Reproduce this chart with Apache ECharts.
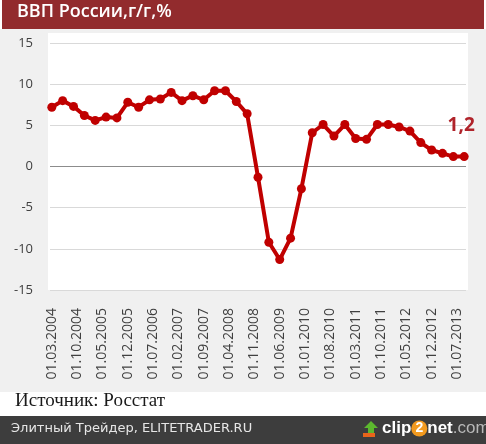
<!DOCTYPE html>
<html>
<head>
<meta charset="utf-8">
<script src="https://cdn.jsdelivr.net/npm/echarts@6/dist/echarts.min.js"></script>
<style>
html,body{margin:0;padding:0;background:#ffffff;}
#chart{width:486px;height:444px;}
</style>
</head>
<body>
<div id="chart"></div>
<script>
// Quarterly dates (data points)
const quarterDates = [
  '01.03.2004','01.06.2004','01.09.2004','01.12.2004',
  '01.03.2005','01.06.2005','01.09.2005','01.12.2005',
  '01.03.2006','01.06.2006','01.09.2006','01.12.2006',
  '01.03.2007','01.06.2007','01.09.2007','01.12.2007',
  '01.03.2008','01.06.2008','01.09.2008','01.12.2008',
  '01.03.2009','01.06.2009','01.09.2009','01.12.2009',
  '01.03.2010','01.06.2010','01.09.2010','01.12.2010',
  '01.03.2011','01.06.2011','01.09.2011','01.12.2011',
  '01.03.2012','01.06.2012','01.09.2012','01.12.2012',
  '01.03.2013','01.06.2013','01.09.2013'
];
// GDP growth y/y, %
const gdpYoY = [
  7.2, 8.0, 7.3, 6.2,
  5.6, 6.0, 5.9, 7.8,
  7.2, 8.1, 8.2, 9.0,
  8.0, 8.6, 8.1, 9.2,
  9.2, 7.9, 6.4, -1.3,
  -9.2, -11.3, -8.7, -2.7,
  4.1, 5.1, 3.7, 5.1,
  3.4, 3.3, 5.1, 5.1,
  4.8, 4.3, 2.9, 2.0,
  1.6, 1.2, 1.2
];
// Tick labels shown on the x axis (every 7 months)
const tickLabels = [
  '01.03.2004','01.10.2004','01.05.2005','01.12.2005','01.07.2006','01.02.2007',
  '01.09.2007','01.04.2008','01.11.2008','01.06.2009','01.01.2010','01.08.2010',
  '01.03.2011','01.10.2011','01.05.2012','01.12.2012','01.07.2013'
];
const yTicks = [-15, -10, -5, 0, 5, 10, 15];

const titleText = 'ВВП России,г/г,%';
const sourceText = 'Источник: Росстат';
const footerText = 'Элитный Трейдер, ELITETRADER.RU';

// monthly category axis from first to last quarter date
function pad(n){return (n<10?'0':'')+n;}
const months = [];
(function(){
  const f = quarterDates[0].split('.'), l = quarterDates[quarterDates.length-1].split('.');
  let m = +f[1], y = +f[2];
  const em = +l[1], ey = +l[2];
  while (y < ey || (y === ey && m <= em)) {
    months.push('01.' + pad(m) + '.' + y);
    m++; if (m > 12) { m = 1; y++; }
  }
})();

const valueByDate = {};
quarterDates.forEach((d, i) => { valueByDate[d] = gdpYoY[i]; });
const lastDate = quarterDates[quarterDates.length - 1];
const seriesData = months.map(c => {
  if (!(c in valueByDate)) return null;
  if (c === lastDate) {
    return {
      value: valueByDate[c],
      label: {
        show: true, position: 'top', distance: 17, offset: [-3, 0],
        formatter: p => String(p.value).replace('.', ','),
        color: '#b0232a', fontSize: 19, fontWeight: 'bold',
        fontFamily: 'Open Sans, sans-serif'
      }
    };
  }
  return valueByDate[c];
});

const gridColors = yTicks.map(v => v === 0 ? '#8c8c8c' : '#d9d9d9');

const chart = echarts.init(document.getElementById('chart'), null, {renderer: 'canvas'});
chart.setOption({
  animation: false,
  backgroundColor: '#ffffff',
  grid: { left: 50, right: 20, top: 43, bottom: 154 },
  xAxis: {
    type: 'category',
    data: months,
    boundaryGap: true,
    axisLine: { show: false },
    axisTick: { show: false },
    splitLine: { show: false },
    axisLabel: {
      interval: 0,
      rotate: 90,
      margin: 18,
      fontSize: 14,
      color: '#404040',
      fontFamily: 'Open Sans, sans-serif',
      padding: [6, 0, 0, 0],
      formatter: v => tickLabels.indexOf(v) >= 0 ? v : ''
    }
  },
  yAxis: {
    type: 'value',
    min: yTicks[0], max: yTicks[yTicks.length - 1], interval: 5,
    axisLine: { show: false },
    axisTick: { show: false },
    axisLabel: { margin: 17, fontSize: 13, color: '#404040', fontFamily: 'Open Sans, sans-serif' },
    splitLine: { show: true, lineStyle: { color: gridColors, width: 1 } }
  },
  series: [{
    type: 'line',
    data: seriesData,
    connectNulls: true,
    symbol: 'circle',
    symbolSize: 9,
    lineStyle: { color: '#c00000', width: 4 },
    itemStyle: { color: '#c00000' },
    z: 5
  }],
  graphic: [
    { type: 'rect', z: -100, shape: { x: 0, y: 29, width: 486, height: 363 }, style: { fill: '#f0f0f0' } },
    { type: 'rect', z: -99, shape: { x: 48, y: 33, width: 420, height: 257 }, style: { fill: '#ffffff' } },
    { type: 'rect', z: -98, shape: { x: 2, y: 0, width: 482, height: 29 }, style: { fill: '#922b2d' } },
    { type: 'text', z: 100, left: 17, top: 3, style: { text: titleText, fill: '#ffffff', fontSize: 18, fontWeight: 600, fontFamily: 'Open Sans, sans-serif' } },
    { type: 'text', z: 100, left: 15, top: 392, style: { text: sourceText, fill: '#1a1a1a', fontSize: 19, fontFamily: 'Liberation Serif, serif' } },
    { type: 'rect', z: 50, shape: { x: 0, y: 416, width: 486, height: 28 }, style: { fill: '#3d3d3d' } },
    { type: 'text', z: 100, left: 11, top: 422, style: { text: footerText, fill: '#e6e6e6', fontSize: 13, fontFamily: 'DejaVu Sans, sans-serif' } },
    { type: 'polygon', z: 100, shape: { points: [[371,421],[378,428],[374,428],[374,433],[368,433],[368,428],[364,428]] }, style: { fill: '#5cb82e' } },
    { type: 'rect', z: 100, shape: { x: 363, y: 433, width: 12, height: 4 }, style: { fill: '#e8641b' } },
    { type: 'text', z: 100, left: 382, top: 420, style: {
      text: '{a|clip}{b|2}{a|net}{c|.com}',
      rich: {
        a: { fill: '#ffffff', fontSize: 17, fontWeight: 'bold', fontFamily: 'Liberation Sans, Arial, sans-serif' },
        b: { fill: '#ffffff', fontSize: 14, fontWeight: 'bold', backgroundColor: '#f29a1f', borderRadius: 8, width: 16, height: 16, align: 'center', fontFamily: 'Liberation Sans, Arial, sans-serif' },
        c: { fill: '#b8b8b8', fontSize: 17, fontFamily: 'Liberation Sans, Arial, sans-serif' }
      }
    } }
  ]
});
</script>
</body>
</html>
